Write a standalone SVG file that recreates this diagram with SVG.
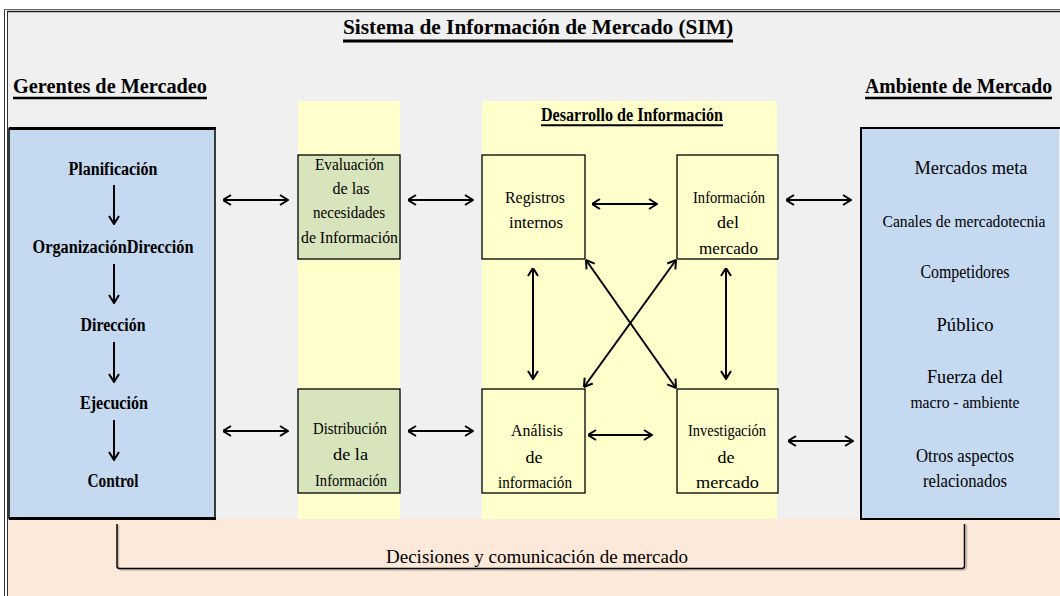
<svg xmlns="http://www.w3.org/2000/svg" width="1060" height="596" viewBox="0 0 1060 596">
<style>
.b{font-family:"Liberation Serif","Times New Roman",serif;font-weight:bold;fill:#000}
.n{font-family:"Liberation Serif","Times New Roman",serif;fill:#000;text-anchor:middle}
.lp{text-anchor:middle}
.bx{stroke:#000;stroke-width:1.3}
.ar{fill:none;stroke:#000;stroke-width:2}
.ul{stroke:#000}
</style>
<defs>
<marker id="ah" viewBox="0 0 10 12" refX="9.5" refY="6" markerWidth="10" markerHeight="12" markerUnits="userSpaceOnUse" orient="auto-start-reverse">
<path d="M1.5,1 L9.5,6 L1.5,11" fill="none" stroke="#000" stroke-width="2"/>
</marker>
</defs>
<rect x="0" y="0" width="1060" height="596" fill="#fff"/>
<g id="background">
<rect x="8" y="11" width="1052" height="509" fill="#f0f0f0"/>
<rect x="8" y="519" width="1052" height="77" fill="#fde9d9"/>
<rect x="298" y="101" width="102" height="418" fill="#ffffcc"/>
<rect x="482" y="101" width="295" height="418" fill="#ffffcc"/>
<line x1="4.5" y1="9" x2="4.5" y2="596" stroke="#333" stroke-width="1"/>
<line x1="7.5" y1="11" x2="7.5" y2="596" stroke="#333" stroke-width="1"/>
<line x1="4" y1="9.5" x2="1060" y2="9.5" stroke="#666" stroke-width="1"/>
<line x1="7" y1="11.5" x2="1060" y2="11.5" stroke="#222" stroke-width="1.5"/>
</g>
<g id="titles">
<text class="b" x="343" y="34" font-size="22" textLength="390" lengthAdjust="spacingAndGlyphs">Sistema de Información de Mercado (SIM)</text>
<line class="ul" x1="343" y1="41" x2="733" y2="41" stroke-width="3"/>
<text class="b" x="13" y="93" font-size="20" textLength="194" lengthAdjust="spacingAndGlyphs">Gerentes de Mercadeo</text>
<line class="ul" x1="13" y1="98" x2="207" y2="98" stroke-width="2.5"/>
<text class="b" x="865" y="93" font-size="20" textLength="187" lengthAdjust="spacingAndGlyphs">Ambiente de Mercado</text>
<line class="ul" x1="865" y1="98" x2="1052" y2="98" stroke-width="2.5"/>
<text class="b" x="541" y="121" font-size="18" textLength="182" lengthAdjust="spacingAndGlyphs">Desarrollo de Información</text>
<line class="ul" x1="541" y1="125.3" x2="723" y2="125.3" stroke-width="2"/>
</g>
<g id="gerentes">
<rect x="9" y="128.5" width="206" height="390" fill="#c5d9f1" stroke="#000" stroke-width="1.5"/>
<line x1="9" y1="128.5" x2="216" y2="128.5" stroke="#000" stroke-width="3"/>
<line x1="9" y1="518.5" x2="216" y2="518.5" stroke="#000" stroke-width="3"/>
<text class="b lp" x="113" y="175" font-size="18" textLength="89" lengthAdjust="spacingAndGlyphs">Planificación</text>
<text class="b lp" x="113" y="253" font-size="18" textLength="161" lengthAdjust="spacingAndGlyphs">OrganizaciónDirección</text>
<text class="b lp" x="113" y="331" font-size="18" textLength="65" lengthAdjust="spacingAndGlyphs">Dirección</text>
<text class="b lp" x="114" y="409" font-size="18" textLength="68" lengthAdjust="spacingAndGlyphs">Ejecución</text>
<text class="b lp" x="113" y="487" font-size="18" textLength="51" lengthAdjust="spacingAndGlyphs">Control</text>
</g>
<g id="ambiente">
<rect x="861" y="128" width="198" height="391" fill="#c5d9f1"/>
<path d="M1060,128 L861,128 L861,519 L1060,519" fill="none" stroke="#000" stroke-width="2"/>
<text class="n" x="971" y="174" font-size="18" textLength="113" lengthAdjust="spacingAndGlyphs">Mercados meta</text>
<text class="n" x="964" y="227" font-size="16" textLength="163" lengthAdjust="spacingAndGlyphs">Canales de mercadotecnia</text>
<text class="n" x="965" y="278" font-size="18" textLength="89" lengthAdjust="spacingAndGlyphs">Competidores</text>
<text class="n" x="965" y="331" font-size="18.5" textLength="57" lengthAdjust="spacingAndGlyphs">Público</text>
<text class="n" x="965" y="383" font-size="18" textLength="76" lengthAdjust="spacingAndGlyphs">Fuerza del</text>
<text class="n" x="965" y="408" font-size="17" textLength="109" lengthAdjust="spacingAndGlyphs">macro - ambiente</text>
<text class="n" x="965" y="462" font-size="18" textLength="98" lengthAdjust="spacingAndGlyphs">Otros aspectos</text>
<text class="n" x="965" y="487" font-size="18" textLength="84" lengthAdjust="spacingAndGlyphs">relacionados</text>
</g>
<g id="evaluacion">
<rect class="bx" x="298" y="155" width="102" height="104" fill="#d8e4bc"/>
<text class="n" x="349.5" y="170" font-size="17" textLength="69" lengthAdjust="spacingAndGlyphs">Evaluación</text>
<text class="n" x="351" y="194" font-size="17" textLength="37" lengthAdjust="spacingAndGlyphs">de las</text>
<text class="n" x="349" y="218" font-size="17" textLength="72" lengthAdjust="spacingAndGlyphs">necesidades</text>
<text class="n" x="349.5" y="243" font-size="17" textLength="97" lengthAdjust="spacingAndGlyphs">de Información</text>
</g>
<g id="distribucion">
<rect class="bx" x="298" y="389" width="102" height="104" fill="#d8e4bc"/>
<text class="n" x="350" y="434" font-size="17" textLength="74" lengthAdjust="spacingAndGlyphs">Distribución</text>
<text class="n" x="350.5" y="460" font-size="17" textLength="35" lengthAdjust="spacingAndGlyphs">de la</text>
<text class="n" x="351" y="486" font-size="17" textLength="72" lengthAdjust="spacingAndGlyphs">Información</text>
</g>
<g id="registros">
<rect class="bx" x="482" y="155" width="103" height="104" fill="#ffffcc"/>
<text class="n" x="535" y="203" font-size="17" textLength="60" lengthAdjust="spacingAndGlyphs">Registros</text>
<text class="n" x="536" y="228" font-size="17" textLength="54" lengthAdjust="spacingAndGlyphs">internos</text>
</g>
<g id="informacion">
<rect class="bx" x="677" y="155" width="101" height="104" fill="#ffffcc"/>
<text class="n" x="729" y="203" font-size="17" textLength="72" lengthAdjust="spacingAndGlyphs">Información</text>
<text class="n" x="728" y="228" font-size="17" textLength="22" lengthAdjust="spacingAndGlyphs">del</text>
<text class="n" x="728.5" y="254" font-size="17" textLength="59" lengthAdjust="spacingAndGlyphs">mercado</text>
</g>
<g id="analisis">
<rect class="bx" x="482" y="389" width="103" height="104" fill="#ffffcc"/>
<text class="n" x="537" y="436" font-size="17" textLength="52" lengthAdjust="spacingAndGlyphs">Análisis</text>
<text class="n" x="534" y="463" font-size="17" textLength="17" lengthAdjust="spacingAndGlyphs">de</text>
<text class="n" x="535" y="488" font-size="17" textLength="74" lengthAdjust="spacingAndGlyphs">información</text>
</g>
<g id="investigacion">
<rect class="bx" x="677" y="389" width="101" height="104" fill="#ffffcc"/>
<text class="n" x="727" y="436" font-size="17" textLength="78" lengthAdjust="spacingAndGlyphs">Investigación</text>
<text class="n" x="726" y="463" font-size="17" textLength="17" lengthAdjust="spacingAndGlyphs">de</text>
<text class="n" x="727.5" y="488" font-size="17" textLength="63" lengthAdjust="spacingAndGlyphs">mercado</text>
</g>
<g id="connectors">
<line class="ar" x1="114" y1="185" x2="114" y2="224" marker-end="url(#ah)"/>
<line class="ar" x1="114" y1="264" x2="114" y2="303" marker-end="url(#ah)"/>
<line class="ar" x1="114" y1="342" x2="114" y2="382" marker-end="url(#ah)"/>
<line class="ar" x1="114" y1="420" x2="114" y2="460" marker-end="url(#ah)"/>
<line class="ar" x1="223" y1="200" x2="288" y2="200" marker-start="url(#ah)" marker-end="url(#ah)"/>
<line class="ar" x1="223" y1="431" x2="288" y2="431" marker-start="url(#ah)" marker-end="url(#ah)"/>
<line class="ar" x1="408" y1="200" x2="473" y2="200" marker-start="url(#ah)" marker-end="url(#ah)"/>
<line class="ar" x1="408" y1="431" x2="473" y2="431" marker-start="url(#ah)" marker-end="url(#ah)"/>
<line class="ar" x1="592" y1="204" x2="657" y2="204" marker-start="url(#ah)" marker-end="url(#ah)"/>
<line class="ar" x1="588" y1="435" x2="652" y2="435" marker-start="url(#ah)" marker-end="url(#ah)"/>
<line class="ar" x1="533" y1="268" x2="533" y2="379" marker-start="url(#ah)" marker-end="url(#ah)"/>
<line class="ar" x1="726" y1="268" x2="726" y2="379" marker-start="url(#ah)" marker-end="url(#ah)"/>
<line class="ar" x1="586" y1="260" x2="676" y2="388" marker-start="url(#ah)" marker-end="url(#ah)"/>
<line class="ar" x1="676" y1="260" x2="584" y2="387" marker-start="url(#ah)" marker-end="url(#ah)"/>
<line class="ar" x1="786" y1="200" x2="851" y2="200" marker-start="url(#ah)" marker-end="url(#ah)"/>
<line class="ar" x1="788" y1="441" x2="853" y2="441" marker-start="url(#ah)" marker-end="url(#ah)"/>
<path d="M118.5,525 L118.5,567 Q118.5,570 121.5,570 L963.5,570 Q966.5,570 966.5,567 L966.5,525" fill="none" stroke="#c8b8ae" stroke-width="1.5"/>
<path d="M117,524 L117,566 Q117,568.5 119.5,568.5 L962,568.5 Q964.5,568.5 964.5,566 L964.5,524" fill="none" stroke="#000" stroke-width="1.5"/>
</g>
<g id="decisiones">
<text class="n" x="537" y="563" font-size="19" textLength="302" lengthAdjust="spacingAndGlyphs">Decisiones y comunicación de mercado</text>
</g>
</svg>
